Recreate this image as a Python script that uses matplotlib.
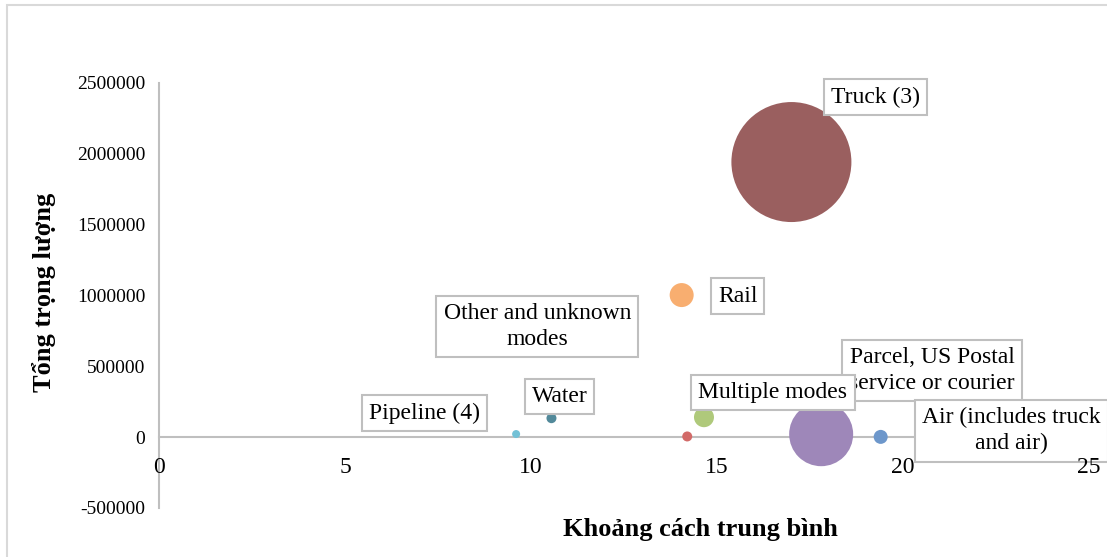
import matplotlib.pyplot as plt
from matplotlib.patches import Rectangle
from matplotlib.ticker import FuncFormatter

plt.rcParams['font.family'] = ['Liberation Serif', 'DejaVu Serif']
plt.rcParams['axes.unicode_minus'] = False

# mode shipments: average distance vs total weight, bubble ~ share of volume
modes = ['Air (includes truck\nand air)', 'Other and unknown\nmodes', 'Multiple modes',
         'Parcel, US Postal\nservice or courier', 'Pipeline (4)', 'Rail', 'Truck (3)', 'Water']
distance = [19.4, 14.2, 14.65, 17.8, 9.6, 14.05, 17.0, 10.55]
weight = [2000, 5000, 141000, 21000, 22000, 1003000, 1942000, 134000]
volume = [49, 25, 100, 1024, 16, 144, 3600, 25]
colors = ['#6d97cb', '#d26a68', '#afc97b', '#9e87b9', '#73c1d6', '#f8ae70', '#9a5f5f', '#52899a']

# label offsets (pixels) from each bubble
label_off = [(131, 6), (-150, 110), (69, 25), (111, 64), (-92, 21), (56, -1), (84, 65), (8, 22)]

fig = plt.figure(figsize=(11.07, 5.57), dpi=100)
fig.patches.append(Rectangle((7 / 1107, -0.1), 1.2, 1.1 - 5 / 557, transform=fig.transFigure,
                             fill=False, edgecolor='#d9d9d9', linewidth=1.5))
ax = fig.add_axes([159 / 1107, 1 - 508 / 557, (1089 - 159) / 1107, (508 - 83) / 557])

max_r = 60 * 0.72  # radius in points for the biggest bubble
sizes = [(2 * max_r) ** 2 * v / max(volume) for v in volume]
ax.scatter(distance, weight, s=sizes, c=colors, edgecolors='none', zorder=3)

ax.set_xlim(0, 25)
ax.set_ylim(-500000, 2500000)
ax.set_xticks(range(0, 26, 5))
ax.set_yticks(range(-500000, 2500001, 500000))
ax.yaxis.set_major_formatter(FuncFormatter(lambda v, p: '%d' % v))

for side in ['top', 'right']:
    ax.spines[side].set_visible(False)
ax.spines['bottom'].set_position(('data', 0))
for side in ['left', 'bottom']:
    ax.spines[side].set_color('#bfbfbf')
    ax.spines[side].set_linewidth(1.5)
ax.tick_params(axis='x', length=0, pad=14, labelsize=17)
ax.tick_params(axis='y', length=0, pad=10, labelsize=14)
ax.xaxis.set_zorder(6)  # tick numbers stay on top of the label boxes

ax.set_xlabel('Khoảng cách trung bình', fontsize=19, fontweight='bold')
ax.xaxis.set_label_coords((700 - 159) / 930, -(518 - 508) / 425)
ax.set_ylabel('Tổng trọng lượng', fontsize=19, fontweight='bold')
ax.yaxis.set_label_coords(-(159 - 56) / 930, (508 - 292) / 425)

# draw order so Multiple modes box sits over the Parcel box
order = [3, 0, 2, 1, 4, 5, 6, 7]
for i in order:
    ax.annotate(modes[i], (distance[i], weight[i]), xytext=label_off[i],
                textcoords='offset pixels', ha='center', va='center', fontsize=17,
                linespacing=1.3, annotation_clip=False, zorder=5,
                bbox=dict(boxstyle='square,pad=0.3', fc='white', ec='#bfbfbf', lw=1.5))

fig.savefig('out.png', dpi=100)
